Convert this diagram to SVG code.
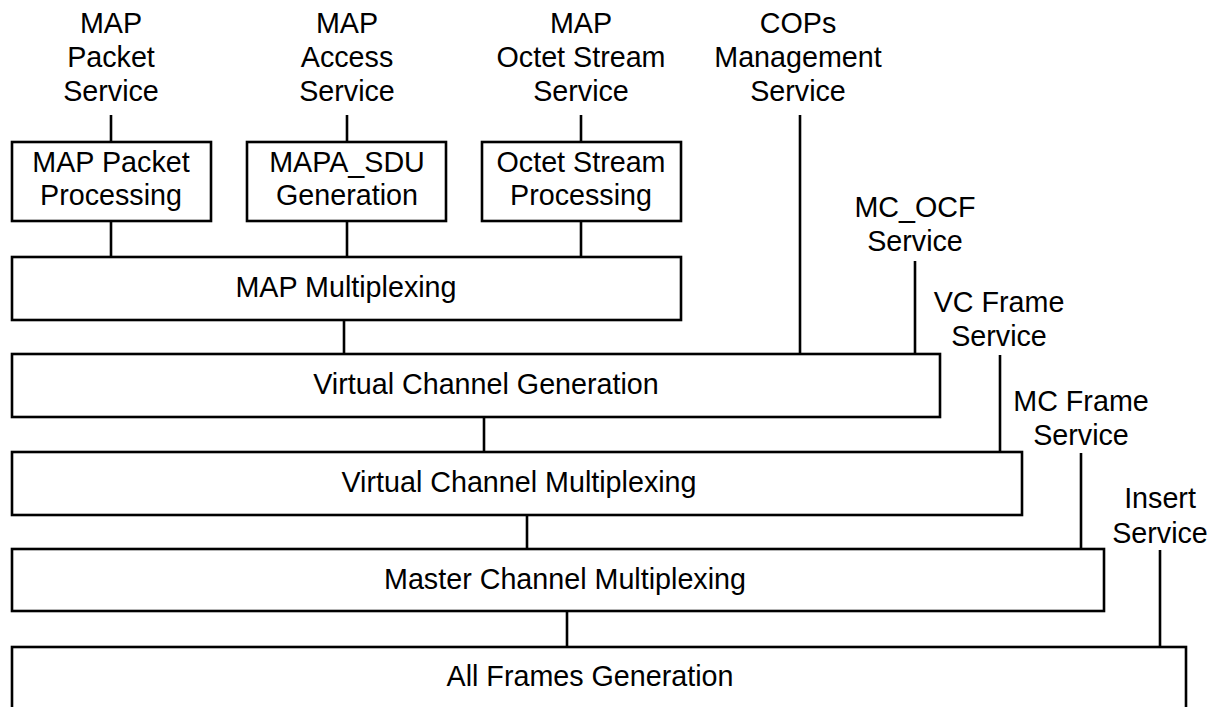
<svg xmlns="http://www.w3.org/2000/svg" width="1216" height="707" viewBox="0 0 1216 707">
  <style>
    .box { fill: #fff; stroke: #000; stroke-width: 2.6; }
    .ln { stroke: #000; stroke-width: 2.6; fill: none; }
    text { font-family: "Liberation Sans", Arial, sans-serif; font-size: 28.7px; fill: #000; text-anchor: middle; }
  </style>
  <rect width="1216" height="707" fill="#fff"/>

  <!-- service access point labels -->
  <g id="labels">
    <text x="111" y="33">MAP</text>
    <text x="111" y="67">Packet</text>
    <text x="111" y="101">Service</text>

    <text x="347" y="33">MAP</text>
    <text x="347" y="67">Access</text>
    <text x="347" y="101">Service</text>

    <text x="581" y="33">MAP</text>
    <text x="581" y="67">Octet Stream</text>
    <text x="581" y="101">Service</text>

    <text x="798" y="33">COPs</text>
    <text x="798" y="67">Management</text>
    <text x="798" y="101">Service</text>

    <text x="915" y="217">MC_OCF</text>
    <text x="915" y="251">Service</text>

    <text x="999" y="312">VC Frame</text>
    <text x="999" y="346">Service</text>

    <text x="1081" y="411">MC Frame</text>
    <text x="1081" y="445">Service</text>

    <text x="1160" y="508">Insert</text>
    <text x="1160" y="543">Service</text>
  </g>

  <!-- connectors -->
  <g id="connectors">
    <line class="ln" x1="111" y1="115" x2="111" y2="142"/>
    <line class="ln" x1="347" y1="115" x2="347" y2="142"/>
    <line class="ln" x1="581" y1="115" x2="581" y2="142"/>
    <line class="ln" x1="111" y1="221" x2="111" y2="257"/>
    <line class="ln" x1="347" y1="221" x2="347" y2="257"/>
    <line class="ln" x1="581" y1="221" x2="581" y2="257"/>
    <line class="ln" x1="344" y1="320" x2="344" y2="354"/>
    <line class="ln" x1="800" y1="115" x2="800" y2="354"/>
    <line class="ln" x1="915" y1="261" x2="915" y2="354"/>
    <line class="ln" x1="484" y1="417" x2="484" y2="452"/>
    <line class="ln" x1="1000" y1="355" x2="1000" y2="452"/>
    <line class="ln" x1="527" y1="515" x2="527" y2="549"/>
    <line class="ln" x1="1081" y1="453" x2="1081" y2="549"/>
    <line class="ln" x1="567" y1="611" x2="567" y2="647"/>
    <line class="ln" x1="1160" y1="550" x2="1160" y2="647"/>
  </g>

  <g id="map-packet-processing">
    <rect class="box" x="12" y="142" width="199" height="79"/>
    <text x="111" y="172">MAP Packet</text>
    <text x="111" y="205">Processing</text>
  </g>

  <g id="mapa-sdu-generation">
    <rect class="box" x="247" y="142" width="199" height="79"/>
    <text x="347" y="172">MAPA_SDU</text>
    <text x="347" y="205">Generation</text>
  </g>

  <g id="octet-stream-processing">
    <rect class="box" x="482" y="142" width="199" height="79"/>
    <text x="581" y="172">Octet Stream</text>
    <text x="581" y="205">Processing</text>
  </g>

  <g id="map-multiplexing">
    <rect class="box" x="12" y="257" width="669" height="63"/>
    <text x="346" y="297">MAP Multiplexing</text>
  </g>

  <g id="virtual-channel-generation">
    <rect class="box" x="12" y="354" width="928" height="63"/>
    <text x="486" y="394">Virtual Channel Generation</text>
  </g>

  <g id="virtual-channel-multiplexing">
    <rect class="box" x="12" y="452" width="1010" height="63"/>
    <text x="519" y="492">Virtual Channel Multiplexing</text>
  </g>

  <g id="master-channel-multiplexing">
    <rect class="box" x="12" y="549" width="1092" height="62"/>
    <text x="565" y="589">Master Channel Multiplexing</text>
  </g>

  <g id="all-frames-generation">
    <rect class="box" x="12" y="647" width="1174" height="80"/>
    <text x="590" y="686">All Frames Generation</text>
  </g>
</svg>
